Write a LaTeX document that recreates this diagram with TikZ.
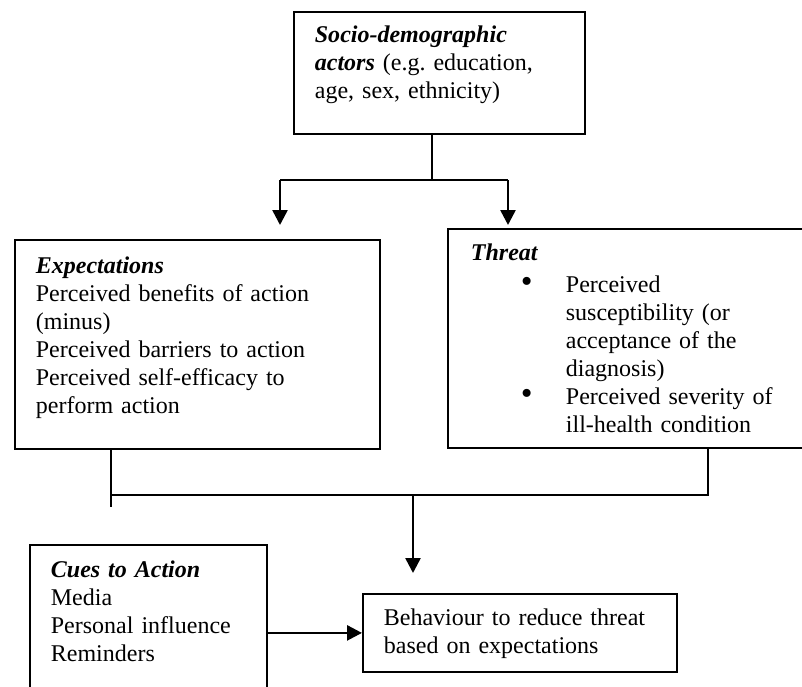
\documentclass[tikz,border=0pt]{standalone}
\usepackage{fontspec}
\setmainfont{Liberation Serif}
\usetikzlibrary{arrows.meta}
\newcommand\boxtop[1]{\rule{0pt}{#1pt}}
\newcommand\boxbot[1]{\rule[-#1pt]{0pt}{#1pt}}
\newcommand\bulletmark{\makebox[45pt][l]{\scalebox{1.4}{\textbullet}}}
\tikzset{
  box/.style={draw,line width=1.8pt,anchor=north west,align=left,inner xsep=21pt,inner ysep=0pt,font=\fontsize{24}{28}\selectfont\frenchspacing},
  link/.style={line width=1.8pt},
  arr/.style={line width=2.6pt,-{Triangle[length=15pt,width=15pt]}}
}
\begin{document}
\begin{tikzpicture}[x=1pt,y=-1pt]
\useasboundingbox (0,0) rectangle (802,687);
\clip (0,0) rectangle (802,687);
\node[box,text width=249pt] (1) at (293,11) {\boxtop{30.5}\textbf{\textit{Socio-demographic}}\\
  \textbf{\textit{actors}} (e.g. education,\\ age, sex, ethnicity)\boxbot{35.5}};
\node[box,text width=323pt] (2) at (14,239) {\boxtop{34}\textbf{\textit{Expectations}}\\
  Perceived benefits of action\\ (minus)\\ Perceived barriers to action\\
  Perceived self-efficacy to\\ perform action\boxbot{35}};
\node[box,inner xsep=23pt,text width=337pt] (3) at (447,228) {\boxtop{32}\textbf{\textit{Threat}}\\[3.7pt]
  \hspace*{50pt}\bulletmark Perceived\\
  \hspace*{95pt}susceptibility (or\\ \hspace*{95pt}acceptance of the\\ \hspace*{95pt}diagnosis)\\
  \hspace*{50pt}\bulletmark Perceived severity of\\
  \hspace*{95pt}ill-health condition\boxbot{15.3}};
\node[box,text width=195pt] (4) at (29,544) {\boxtop{33}\textbf{\textit{Cues to Action}}\\
  Media\\ Personal influence\\ Reminders\boxbot{39}};
\node[box,text width=272pt] (5) at (362,593) {\boxtop{32}Behaviour to reduce threat\\
  based on expectations\boxbot{18}};
\coordinate (fork) at (432,180);
\coordinate (forkl) at (280,180);
\coordinate (forkr) at (508,180);
\coordinate (stub) at (111,507);
\coordinate (joinl) at (111,495);
\coordinate (joinr) at (708,495);
\coordinate (merge) at (413,495);
\draw[link] (1.south -| fork) -- (fork);
\draw[link] (forkl) -- (forkr);
\draw[arr,shorten >=14pt] (forkl) -- (forkl |- 2.north);
\draw[arr,shorten >=3pt] (forkr) -- (forkr |- 3.north);
\draw[link] (2.south -| stub) -- (stub);
\draw[link] (joinl) -- (joinr) -- (3.south -| joinr);
\draw[arr,shorten >=20pt] (merge) -- (merge |- 5.north);
\draw[arr] (4.east |- 5.west) -- (5.west);
\end{tikzpicture}
\end{document}
